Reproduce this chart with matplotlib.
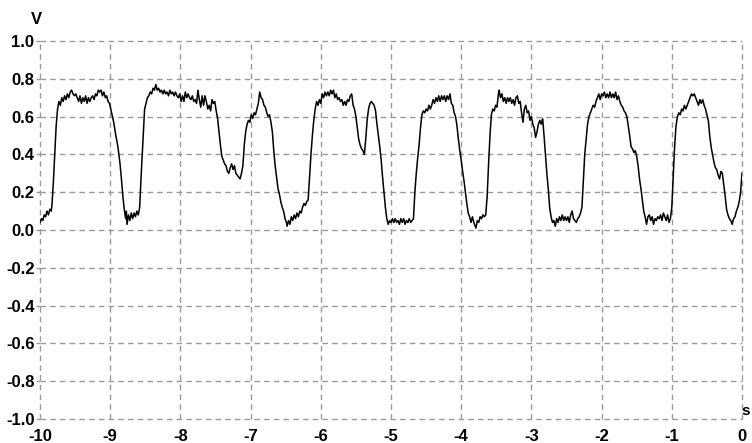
import matplotlib
matplotlib.use("Agg")
import matplotlib.pyplot as plt

plt.rcParams["font.family"] = ["Liberation Sans", "DejaVu Sans"]
plt.rcParams["lines.scale_dashes"] = False

# trace (time in s, voltage in V)
t = [
    -10.00, -9.98, -9.96, -9.94, -9.92, -9.90, -9.88, -9.86, -9.84, -9.83,
    -9.81, -9.79, -9.77, -9.75, -9.73, -9.71, -9.69, -9.67, -9.65, -9.63,
    -9.61, -9.59, -9.57, -9.55, -9.53, -9.51, -9.49, -9.47, -9.45, -9.43,
    -9.41, -9.39, -9.37, -9.35, -9.33, -9.31, -9.29, -9.27, -9.25, -9.23,
    -9.21, -9.19, -9.17, -9.15, -9.13, -9.11, -9.09, -9.07, -9.05, -9.03,
    -9.01, -8.98, -8.95, -8.92, -8.89, -8.86, -8.84, -8.82, -8.80, -8.78,
    -8.77, -8.76, -8.74, -8.72, -8.70, -8.68, -8.66, -8.64, -8.62, -8.60,
    -8.58, -8.56, -8.54, -8.52, -8.51, -8.49, -8.47, -8.45, -8.43, -8.41,
    -8.39, -8.37, -8.35, -8.33, -8.31, -8.29, -8.27, -8.25, -8.23, -8.21,
    -8.19, -8.17, -8.15, -8.13, -8.11, -8.09, -8.07, -8.05, -8.03, -8.01,
    -7.99, -7.97, -7.95, -7.93, -7.91, -7.89, -7.87, -7.85, -7.83, -7.81,
    -7.79, -7.77, -7.75, -7.73, -7.71, -7.69, -7.67, -7.65, -7.63, -7.61,
    -7.59, -7.57, -7.55, -7.53, -7.51, -7.49, -7.47, -7.45, -7.43, -7.41,
    -7.39, -7.37, -7.35, -7.33, -7.31, -7.29, -7.27, -7.25, -7.23, -7.21,
    -7.19, -7.17, -7.15, -7.13, -7.11, -7.09, -7.07, -7.05, -7.03, -7.01,
    -6.99, -6.97, -6.95, -6.93, -6.91, -6.89, -6.87, -6.85, -6.83, -6.81,
    -6.79, -6.77, -6.75, -6.73, -6.71, -6.69, -6.67, -6.65, -6.63, -6.61,
    -6.59, -6.57, -6.55, -6.53, -6.51, -6.49, -6.48, -6.46, -6.44, -6.42,
    -6.40, -6.38, -6.36, -6.34, -6.32, -6.30, -6.28, -6.26, -6.24, -6.22,
    -6.20, -6.18, -6.16, -6.14, -6.12, -6.10, -6.08, -6.06, -6.04, -6.02,
    -6.00, -5.98, -5.96, -5.94, -5.92, -5.90, -5.88, -5.86, -5.84, -5.82,
    -5.80, -5.78, -5.76, -5.74, -5.72, -5.70, -5.68, -5.66, -5.64, -5.62,
    -5.60, -5.58, -5.56, -5.54, -5.52, -5.50, -5.48, -5.46, -5.44, -5.42,
    -5.40, -5.38, -5.36, -5.34, -5.32, -5.30, -5.28, -5.26, -5.24, -5.22,
    -5.20, -5.18, -5.16, -5.14, -5.12, -5.10, -5.08, -5.06, -5.04, -5.02,
    -5.00, -4.98, -4.96, -4.94, -4.92, -4.90, -4.88, -4.86, -4.84, -4.82,
    -4.80, -4.78, -4.76, -4.74, -4.72, -4.70, -4.68, -4.66, -4.64, -4.62,
    -4.60, -4.58, -4.56, -4.54, -4.52, -4.50, -4.48, -4.46, -4.44, -4.42,
    -4.40, -4.38, -4.36, -4.34, -4.32, -4.30, -4.28, -4.26, -4.24, -4.22,
    -4.20, -4.18, -4.16, -4.14, -4.12, -4.10, -4.08, -4.06, -4.04, -4.02,
    -4.00, -3.98, -3.96, -3.94, -3.92, -3.90, -3.88, -3.86, -3.84, -3.82,
    -3.80, -3.79, -3.77, -3.75, -3.73, -3.71, -3.69, -3.67, -3.65, -3.63,
    -3.61, -3.59, -3.57, -3.55, -3.53, -3.51, -3.49, -3.47, -3.46, -3.44,
    -3.42, -3.40, -3.38, -3.36, -3.34, -3.32, -3.30, -3.28, -3.26, -3.24,
    -3.22, -3.20, -3.18, -3.16, -3.14, -3.12, -3.10, -3.08, -3.06, -3.04,
    -3.02, -3.00, -2.98, -2.96, -2.94, -2.92, -2.90, -2.88, -2.86, -2.84,
    -2.82, -2.80, -2.78, -2.76, -2.74, -2.72, -2.70, -2.68, -2.66, -2.64,
    -2.62, -2.60, -2.58, -2.56, -2.54, -2.52, -2.50, -2.48, -2.46, -2.44,
    -2.42, -2.40, -2.38, -2.36, -2.34, -2.32, -2.30, -2.28, -2.26, -2.24,
    -2.22, -2.20, -2.18, -2.16, -2.14, -2.12, -2.10, -2.08, -2.06, -2.04,
    -2.02, -2.00, -1.98, -1.96, -1.94, -1.92, -1.90, -1.88, -1.86, -1.84,
    -1.82, -1.80, -1.78, -1.76, -1.74, -1.72, -1.70, -1.68, -1.66, -1.64,
    -1.62, -1.60, -1.58, -1.56, -1.54, -1.52, -1.50, -1.48, -1.46, -1.44,
    -1.42, -1.40, -1.38, -1.36, -1.34, -1.32, -1.30, -1.28, -1.26, -1.24,
    -1.22, -1.20, -1.18, -1.16, -1.14, -1.12, -1.10, -1.08, -1.06, -1.04,
    -1.02, -1.00, -0.98, -0.96, -0.94, -0.92, -0.90, -0.88, -0.86, -0.84,
    -0.82, -0.80, -0.78, -0.76, -0.74, -0.72, -0.70, -0.68, -0.66, -0.64,
    -0.62, -0.60, -0.58, -0.56, -0.54, -0.52, -0.50, -0.48, -0.46, -0.44,
    -0.42, -0.40, -0.38, -0.36, -0.34, -0.32, -0.30, -0.28, -0.26, -0.24,
    -0.22, -0.20, -0.18, -0.16, -0.14, -0.12, -0.10, -0.08, -0.06, -0.04,
    -0.02, 0.00,
]
v = [
    0.04, 0.06, 0.05, 0.08, 0.07, 0.10, 0.08, 0.11, 0.10, 0.13,
    0.25, 0.40, 0.55, 0.64, 0.68, 0.66, 0.70, 0.68, 0.71, 0.69,
    0.72, 0.70, 0.73, 0.74, 0.72, 0.71, 0.72, 0.70, 0.68, 0.71,
    0.67, 0.70, 0.68, 0.71, 0.67, 0.70, 0.68, 0.70, 0.71, 0.69,
    0.72, 0.71, 0.74, 0.73, 0.74, 0.71, 0.73, 0.70, 0.71, 0.68,
    0.67, 0.62, 0.57, 0.50, 0.44, 0.35, 0.27, 0.18, 0.11, 0.06,
    0.10, 0.03, 0.08, 0.05, 0.09, 0.06, 0.09, 0.07, 0.10, 0.08,
    0.12, 0.28, 0.42, 0.56, 0.64, 0.67, 0.70, 0.71, 0.73, 0.72,
    0.75, 0.74, 0.77, 0.74, 0.75, 0.73, 0.74, 0.72, 0.74, 0.72,
    0.73, 0.71, 0.74, 0.72, 0.73, 0.71, 0.73, 0.71, 0.70, 0.72,
    0.68, 0.71, 0.68, 0.73, 0.70, 0.72, 0.70, 0.69, 0.71, 0.68,
    0.69, 0.67, 0.74, 0.69, 0.65, 0.71, 0.66, 0.71, 0.68, 0.64,
    0.66, 0.63, 0.69, 0.67, 0.68, 0.63, 0.59, 0.52, 0.45, 0.39,
    0.37, 0.35, 0.34, 0.31, 0.30, 0.33, 0.35, 0.32, 0.34, 0.30,
    0.29, 0.28, 0.27, 0.30, 0.34, 0.45, 0.52, 0.56, 0.58, 0.57,
    0.61, 0.59, 0.62, 0.61, 0.64, 0.67, 0.73, 0.70, 0.69, 0.66,
    0.65, 0.62, 0.60, 0.61, 0.57, 0.52, 0.42, 0.34, 0.28, 0.22,
    0.19, 0.15, 0.12, 0.10, 0.06, 0.04, 0.02, 0.05, 0.03, 0.07,
    0.05, 0.08, 0.06, 0.09, 0.07, 0.10, 0.09, 0.12, 0.14, 0.13,
    0.15, 0.16, 0.28, 0.40, 0.50, 0.58, 0.64, 0.68, 0.66, 0.69,
    0.67, 0.72, 0.70, 0.73, 0.71, 0.73, 0.71, 0.74, 0.72, 0.74,
    0.70, 0.72, 0.69, 0.70, 0.68, 0.69, 0.66, 0.68, 0.66, 0.69,
    0.68, 0.71, 0.72, 0.66, 0.64, 0.60, 0.54, 0.48, 0.45, 0.43,
    0.42, 0.40, 0.48, 0.58, 0.64, 0.67, 0.68, 0.67, 0.66, 0.63,
    0.56, 0.50, 0.44, 0.37, 0.28, 0.20, 0.12, 0.06, 0.03, 0.05,
    0.04, 0.06, 0.04, 0.06, 0.04, 0.05, 0.03, 0.06, 0.04, 0.06,
    0.03, 0.05, 0.04, 0.06, 0.04, 0.05, 0.06, 0.20, 0.30, 0.38,
    0.45, 0.54, 0.61, 0.63, 0.62, 0.64, 0.63, 0.66, 0.64, 0.66,
    0.69, 0.67, 0.70, 0.68, 0.71, 0.68, 0.71, 0.69, 0.71, 0.68,
    0.71, 0.69, 0.72, 0.67, 0.66, 0.62, 0.60, 0.55, 0.48, 0.42,
    0.37, 0.31, 0.26, 0.20, 0.14, 0.09, 0.07, 0.04, 0.07, 0.04,
    0.02, 0.01, 0.05, 0.04, 0.07, 0.06, 0.08, 0.07, 0.08, 0.18,
    0.35, 0.50, 0.61, 0.64, 0.63, 0.66, 0.65, 0.72, 0.74, 0.70,
    0.72, 0.68, 0.70, 0.67, 0.70, 0.68, 0.70, 0.67, 0.69, 0.66,
    0.70, 0.71, 0.67, 0.68, 0.62, 0.57, 0.64, 0.66, 0.62, 0.63,
    0.58, 0.60, 0.56, 0.54, 0.49, 0.52, 0.56, 0.58, 0.56, 0.59,
    0.50, 0.40, 0.30, 0.22, 0.12, 0.07, 0.04, 0.05, 0.02, 0.06,
    0.04, 0.07, 0.05, 0.08, 0.05, 0.07, 0.05, 0.07, 0.04, 0.08,
    0.10, 0.06, 0.05, 0.04, 0.06, 0.07, 0.09, 0.12, 0.26, 0.40,
    0.48, 0.56, 0.60, 0.62, 0.64, 0.66, 0.65, 0.68, 0.70, 0.72,
    0.69, 0.72, 0.71, 0.73, 0.70, 0.72, 0.70, 0.73, 0.70, 0.72,
    0.70, 0.73, 0.69, 0.71, 0.68, 0.66, 0.65, 0.63, 0.62, 0.60,
    0.55, 0.50, 0.44, 0.43, 0.41, 0.42, 0.39, 0.34, 0.27, 0.22,
    0.16, 0.10, 0.07, 0.03, 0.07, 0.08, 0.05, 0.07, 0.03, 0.06,
    0.05, 0.07, 0.06, 0.08, 0.05, 0.09, 0.07, 0.05, 0.08, 0.04,
    0.06, 0.12, 0.28, 0.44, 0.55, 0.60, 0.62, 0.61, 0.64, 0.63,
    0.66, 0.64, 0.66, 0.68, 0.70, 0.72, 0.71, 0.72, 0.70, 0.68,
    0.66, 0.69, 0.67, 0.69, 0.66, 0.64, 0.61, 0.58, 0.50, 0.44,
    0.40, 0.36, 0.33, 0.32, 0.29, 0.27, 0.31, 0.30, 0.24, 0.18,
    0.11, 0.08, 0.06, 0.05, 0.03, 0.06, 0.07, 0.10, 0.12, 0.15,
    0.20, 0.30,
]

x_ticks = [-10, -9, -8, -7, -6, -5, -4, -3, -2, -1, 0]
y_ticks = [-1.0, -0.8, -0.6, -0.4, -0.2, 0.0, 0.2, 0.4, 0.6, 0.8, 1.0]

fig = plt.figure(figsize=(7.52, 4.43), dpi=100)
ax = fig.add_axes([40 / 752, 24 / 443, 702 / 752, 378 / 443])

grid_kw = dict(color="#9a9a9a", lw=1.0, ls=(0, (4, 3)), clip_on=False, zorder=1)
for xt in x_ticks:
    ax.axvline(xt, **grid_kw)
for yt in y_ticks:
    ax.axhline(yt, **grid_kw)

ax.plot(t, v, color="black", lw=1.1, zorder=3)

ax.set_xlim(-10, 0)
ax.set_ylim(-1.0, 1.0)
for s in ax.spines.values():
    s.set_visible(False)

ax.set_xticks(x_ticks)
ax.set_xticklabels([str(x) for x in x_ticks])
ax.set_yticks(y_ticks)
ax.set_yticklabels(["%.1f" % y for y in y_ticks])
ax.tick_params(axis="y", length=3, width=1, color="#9a9a9a", pad=1,
               labelsize=12)
ax.tick_params(axis="x", length=0, pad=7, labelsize=12)
for lab in ax.get_xticklabels() + ax.get_yticklabels():
    lab.set_fontweight("bold")

fig.text(36 / 752, 1 - 20 / 443, "V", ha="center", va="center",
         fontsize=12, fontweight="bold")
fig.text(746 / 752, 1 - 411 / 443, "s", ha="center", va="center",
         fontsize=11, fontweight="bold")

fig.savefig("out.png", dpi=100)
